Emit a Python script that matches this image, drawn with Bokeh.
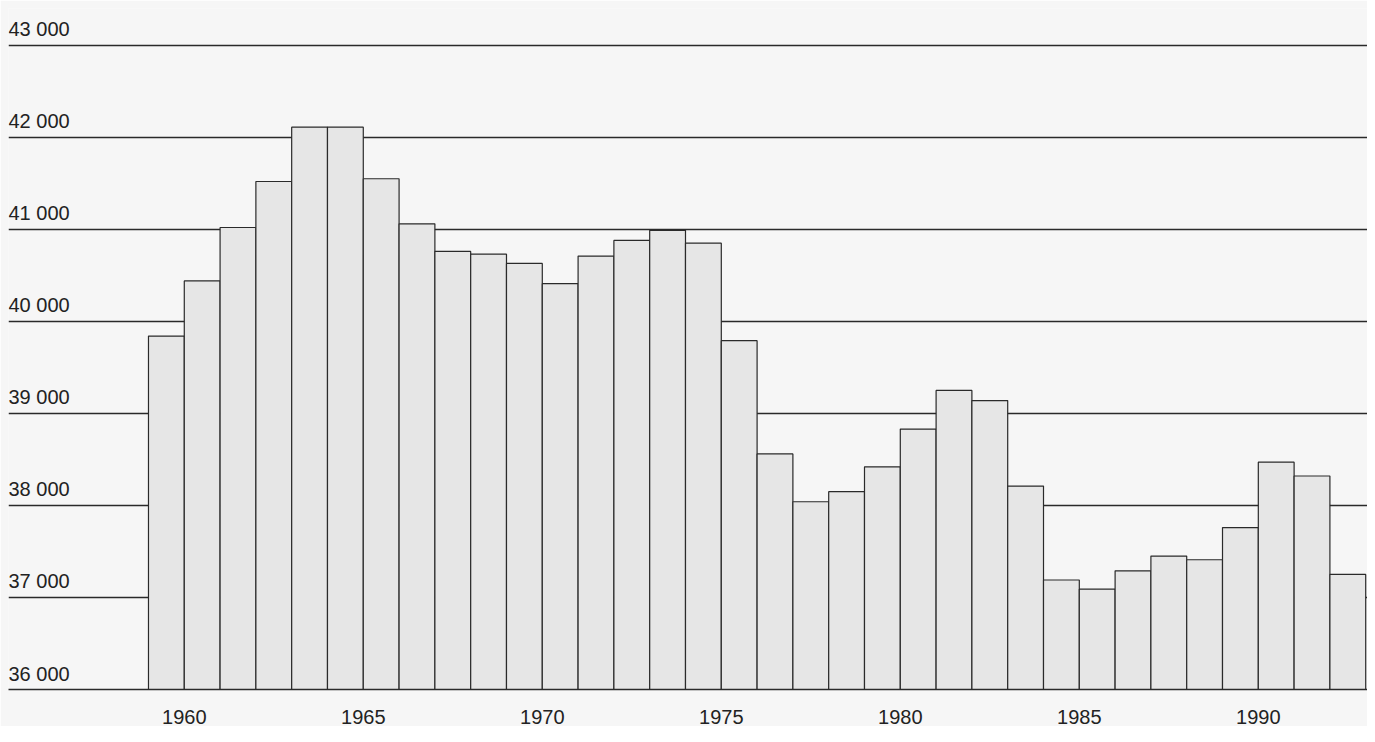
from bokeh.plotting import figure
from bokeh.models import FixedTicker, ColumnDataSource
from bokeh.core.properties import value
from bokeh.embed import file_html
from bokeh.resources import INLINE

years = list(range(1959, 1993))
values = [39840, 40440, 41020, 41520, 42110, 42110, 41550, 41060, 40760, 40730,
          40630, 40410, 40710, 40880, 40990, 40850, 39790, 38560, 38040, 38150,
          38420, 38830, 39250, 39140, 38210, 37190, 37090, 37290, 37450, 37410,
          37760, 38470, 38320, 37250]
y_ticks = [36000, 37000, 38000, 39000, 40000, 41000, 42000, 43000]
y_labels = ["36 000", "37 000", "38 000", "39 000", "40 000", "41 000", "42 000", "43 000"]
x_ticks = [1960, 1965, 1970, 1975, 1980, 1985, 1990]

x0, x1 = 1955.09, 1993.05
p = figure(width=1367, height=726, x_range=(x0, x1), y_range=(36000, 43400),
           output_backend="svg", toolbar_location=None, min_border=0,
           min_border_left=8, min_border_right=0, min_border_top=8)
p.background_fill_color = "#f6f6f6"
p.border_fill_color = "#f6f6f6"
p.outline_line_color = None
p.yaxis.visible = False
p.xgrid.visible = False
p.ygrid.ticker = FixedTicker(ticks=y_ticks)
p.ygrid.grid_line_color = "#2a2a2a"
p.ygrid.grid_line_width = 1.5

p.xaxis.ticker = FixedTicker(ticks=x_ticks)
p.xaxis.major_tick_line_color = None
p.xaxis.minor_tick_line_color = None
p.xaxis.axis_line_color = "#2a2a2a"
p.xaxis.axis_line_width = 1.5
p.xaxis.major_label_text_font = "Liberation Sans"
p.xaxis.major_label_text_font_size = "20px"
p.xaxis.major_label_text_color = "#222222"
p.xaxis.major_label_standoff = 14

src = ColumnDataSource(dict(x=[y + 0.5 for y in years], top=values))
p.vbar(x="x", top="top", bottom=36000, width=1.0, source=src,
       fill_color="#e6e6e6", line_color="#2a2a2a", line_width=1.2)

lab = ColumnDataSource(dict(x=[x0] * len(y_ticks), y=y_ticks, t=y_labels))
p.text(x="x", y="y", text="t", source=lab, x_offset=0, y_offset=-5,
       text_baseline="bottom", text_align="left", text_font=value("Liberation Sans"),
       text_font_size="20px", text_color="#222222")

open("out.html", "w").write(file_html(p, INLINE))
